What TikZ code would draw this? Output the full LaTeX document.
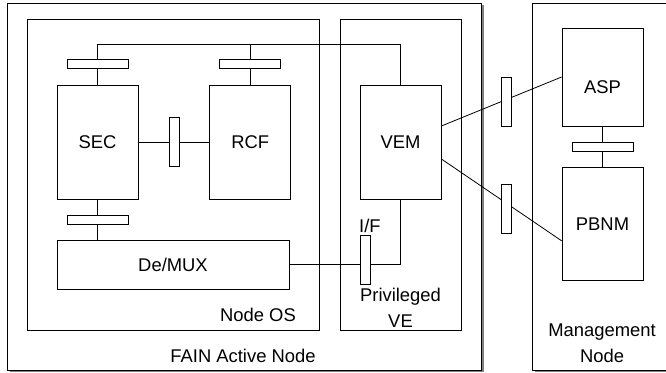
\documentclass[tikz,border=0pt]{standalone}
\usepackage{fontspec}
\setmainfont{Liberation Sans}
\usetikzlibrary{positioning,shadows}
\definecolor{sombra}{RGB}{128,128,128}
\tikzset{
  frame/.style={draw, line width=0.9pt, inner sep=0pt, fill=white},
  shadowed/.style={frame, drop shadow={shadow xshift=3pt, shadow yshift=-1.5pt, fill=sombra, opacity=1}},
  blk/.style={draw, line width=0.8pt, fill=white, inner sep=0pt, minimum width=81pt, text height=13.2pt, text depth=0pt},
  hport/.style={draw, line width=0.8pt, fill=white, inner sep=0pt, minimum width=61pt, minimum height=9pt},
  vport/.style={draw, line width=0.8pt, fill=white, inner sep=0pt, minimum width=10pt, minimum height=49pt},
  wire/.style={line width=0.8pt},
  lbl/.style={align=center, inner sep=0pt},
}

\begin{document}
\begin{tikzpicture}[x=1pt, y=-1pt, font=\fontsize{18.4}{26}\selectfont]
  \clip (0,0) rectangle (666,372);
  % containers
  \node[shadowed, minimum width=474pt, minimum height=367pt] (fain) at (244,186.5) {};
  \node[shadowed, minimum width=148pt, minimum height=367pt] (mgmt) at (606,186.5) {};
  \node[frame, minimum width=292pt, minimum height=311pt] (nodeos) at (173,174.5) {};
  \node[frame, minimum width=121pt, minimum height=311pt] (privve) at (400.5,174.5) {};
  \node[lbl, anchor=base] (fainlbl) at (243,362) {FAIN Active Node};
  \node[lbl, anchor=base] (oslbl) at (258,321) {Node OS};
  \node[lbl, anchor=north] (velbl) at (400.5,287.5) {Privileged\\VE};
  \node[lbl, anchor=north] (mgmtlbl) at (602,324) {Management\\Node};
  % blocks
  \node[blk, minimum height=114pt] (sec) at (97.5,142) {SEC};
  \node[blk, minimum height=114pt, right=71pt of sec] (rcf) {RCF};
  \node[blk, minimum height=114pt] (vem) at (400.5,142) {VEM};
  \node[blk, minimum width=232pt, minimum height=49pt] (demux) at (173,264.5) {De/MUX};
  \node[blk, minimum height=98pt, text height=32pt] (asp) at (602.5,77) {ASP};
  \node[blk, minimum height=113pt, below=41pt of asp] (pbnm) {PBNM};
  \coordinate (bus) at (97.5,44);
  % connections
  \draw[wire] (sec.north) -- (sec.north |- bus) -| (vem.north);
  \draw[wire] (rcf.north) -- (rcf.north |- bus);
  \node[hport, above=16pt of sec] (psec) {};
  \node[hport, above=16pt of rcf] (prcf) {};
  \draw[wire] (sec) -- node[vport] (pmid) {} (rcf);
  \draw[wire] (sec.south) -- node[hport] (pdmx) {} (sec.south |- demux.north);
  \draw[wire] (demux.east) -| node[vport, pos=0.343, yshift=5pt] (pif) {} (vem.south);
  \node[lbl, anchor=base west] (iflbl) at (359,232) {I/F};
  \draw[wire] (asp) -- node[hport] (pasp) {} (pbnm);
  \draw[wire] ([yshift=16pt]vem.east) -- node[vport, pos=0.54, yshift=-2pt] (pup) {} (asp.west);
  \draw[wire] ([yshift=-17pt]vem.east) -- node[vport, pos=0.54, yshift=-6pt] (plow) {} ([yshift=-16.5pt]pbnm.west);
\end{tikzpicture}
\end{document}
